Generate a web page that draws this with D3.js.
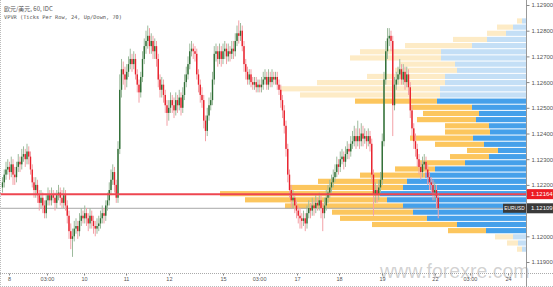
<!DOCTYPE html>
<html><head><meta charset="utf-8">
<script src="https://cdn.jsdelivr.net/npm/d3@7"></script>
<style>html,body{margin:0;padding:0;background:#fff;overflow:hidden}</style>
</head><body>
<svg id="chart" width="553" height="287"></svg>
<script>
const titleLine1 = "欧元/美元, 60, IDC";
const titleLine2 = "VPVR (Ticks Per Row, 24, Up/Down, 70)";
const opens = [
1.1219,1.1221,1.1224,1.1226,1.1227,1.1225,1.1228,1.1224,1.1223,1.1227,
1.1229,1.1228,1.1231,1.1232,1.1230,1.1233,1.1231,1.1226,1.1221,1.1218,
1.1220,1.1216,1.1213,1.1215,1.1212,1.1209,1.1214,1.1216,1.1214,1.1216,
1.1215,1.1213,1.1216,1.1217,1.1215,1.1213,1.1216,1.1212,1.1208,1.1202,
1.1199,1.1200,1.1203,1.1204,1.1202,1.1206,1.1208,1.1207,1.1209,1.1207,
1.1205,1.1208,1.1206,1.1204,1.1203,1.1204,1.1205,1.1207,1.1209,1.1208,
1.1212,1.1214,1.1218,1.1222,1.1225,1.1220,1.1215,1.1234,1.1257,1.1265,
1.1263,1.1261,1.1264,1.1267,1.1269,1.1267,1.1269,1.1263,1.1259,1.1256,
1.1262,1.1269,1.1274,1.1276,1.1278,1.1274,1.1276,1.1272,1.1274,1.1269,
1.1261,1.1257,1.1259,1.1255,1.1251,1.1248,1.1250,1.1253,1.1251,1.1249,
1.1253,1.1251,1.1254,1.1250,1.1255,1.1260,1.1263,1.1267,1.1272,1.1273,
1.1272,1.1271,1.1263,1.1259,1.1255,1.1253,1.1245,1.1241,1.1247,1.1251,
1.1253,1.1261,1.1271,1.1272,1.1269,1.1272,1.1269,1.1272,1.1273,1.1270,
1.1272,1.1271,1.1273,1.1272,1.1276,1.1279,1.1278,1.1280,1.1274,1.1267,
1.1264,1.1261,1.1263,1.1260,1.1259,1.1260,1.1258,1.1259,1.1258,1.1259,
1.1261,1.1262,1.1259,1.1262,1.1260,1.1262,1.1261,1.1262,1.1259,1.1257,
1.1253,1.1249,1.1243,1.1234,1.1224,1.1218,1.1214,1.1215,1.1212,1.1210,
1.1208,1.1207,1.1206,1.1207,1.1205,1.1209,1.1211,1.1210,1.1212,1.1211,
1.1213,1.1212,1.1214,1.1211,1.1209,1.1212,1.1215,1.1217,1.1219,1.1221,
1.1223,1.1225,1.1228,1.1227,1.1230,1.1231,1.1229,1.1232,1.1234,1.1233,
1.1236,1.1237,1.1239,1.1237,1.1239,1.1237,1.1240,1.1238,1.1239,1.1237,
1.1239,1.1236,1.1224,1.1216,1.1218,1.1216,1.1219,1.1222,1.1237,1.1261,
1.1272,1.1277,1.1278,1.1276,1.1251,1.1259,1.1261,1.1263,1.1265,1.1261,
1.1264,1.1260,1.1263,1.1258,1.1249,1.1242,1.1237,1.1234,1.1230,1.1227,
1.1225,1.1228,1.1229,1.1226,1.1223,1.1221,1.1220,1.1217,1.1218,1.1215];
const highs = [
1.1223,1.1226,1.1229,1.1230,1.1229,1.1231,1.1230,1.1227,1.1229,1.1232,
1.1231,1.1234,1.1235,1.1234,1.1236,1.1235,1.1233,1.1228,1.1223,1.1223,
1.1222,1.1218,1.1218,1.1217,1.1214,1.1216,1.1219,1.1218,1.1219,1.1218,
1.1217,1.1218,1.1220,1.1219,1.1218,1.1219,1.1218,1.1214,1.1210,1.1205,
1.1203,1.1206,1.1207,1.1206,1.1209,1.1211,1.1210,1.1212,1.1211,1.1209,
1.1211,1.1210,1.1208,1.1206,1.1207,1.1208,1.1210,1.1212,1.1211,1.1214,
1.1217,1.1221,1.1226,1.1228,1.1227,1.1222,1.1237,1.1263,1.1269,1.1268,
1.1266,1.1267,1.1270,1.1273,1.1271,1.1272,1.1271,1.1265,1.1261,1.1264,
1.1272,1.1277,1.1280,1.1282,1.1281,1.1279,1.1278,1.1277,1.1276,1.1271,
1.1263,1.1262,1.1261,1.1257,1.1253,1.1253,1.1256,1.1255,1.1254,1.1256,
1.1255,1.1257,1.1256,1.1258,1.1263,1.1266,1.1270,1.1275,1.1276,1.1275,
1.1274,1.1273,1.1265,1.1261,1.1258,1.1255,1.1247,1.1250,1.1254,1.1256,
1.1264,1.1274,1.1275,1.1274,1.1275,1.1274,1.1275,1.1276,1.1275,1.1275,
1.1274,1.1276,1.1276,1.1279,1.1282,1.1284,1.1283,1.1282,1.1276,1.1269,
1.1266,1.1265,1.1265,1.1262,1.1262,1.1262,1.1261,1.1261,1.1262,1.1264,
1.1265,1.1264,1.1265,1.1264,1.1265,1.1264,1.1264,1.1264,1.1261,1.1259,
1.1255,1.1251,1.1245,1.1236,1.1226,1.1220,1.1218,1.1217,1.1214,1.1212,
1.1211,1.1209,1.1210,1.1209,1.1212,1.1214,1.1213,1.1215,1.1214,1.1216,
1.1215,1.1217,1.1216,1.1213,1.1215,1.1218,1.1220,1.1222,1.1224,1.1226,
1.1228,1.1231,1.1230,1.1233,1.1234,1.1233,1.1235,1.1237,1.1236,1.1239,
1.1241,1.1243,1.1242,1.1245,1.1242,1.1244,1.1243,1.1242,1.1241,1.1242,
1.1241,1.1238,1.1226,1.1221,1.1220,1.1222,1.1225,1.1240,1.1264,1.1276,
1.1281,1.1281,1.1280,1.1278,1.1262,1.1264,1.1266,1.1269,1.1267,1.1267,
1.1266,1.1266,1.1265,1.1260,1.1251,1.1244,1.1240,1.1236,1.1232,1.1229,
1.1231,1.1232,1.1231,1.1228,1.1225,1.1223,1.1222,1.1221,1.1220,1.1217];
const lows = [
1.1217,1.1219,1.1222,1.1224,1.1222,1.1223,1.1220,1.1220,1.1221,1.1225,
1.1225,1.1226,1.1229,1.1227,1.1228,1.1228,1.1224,1.1219,1.1215,1.1215,
1.1213,1.1210,1.1211,1.1209,1.1207,1.1207,1.1212,1.1212,1.1212,1.1213,
1.1210,1.1211,1.1214,1.1212,1.1211,1.1211,1.1210,1.1205,1.1199,1.1195,
1.1192,1.1198,1.1201,1.1199,1.1200,1.1204,1.1205,1.1205,1.1204,1.1202,
1.1203,1.1203,1.1201,1.1200,1.1201,1.1202,1.1203,1.1205,1.1205,1.1206,
1.1210,1.1212,1.1216,1.1220,1.1217,1.1213,1.1213,1.1232,1.1254,1.1259,
1.1257,1.1258,1.1262,1.1265,1.1264,1.1265,1.1261,1.1256,1.1252,1.1254,
1.1260,1.1267,1.1271,1.1273,1.1271,1.1271,1.1269,1.1269,1.1266,1.1258,
1.1254,1.1254,1.1252,1.1248,1.1243,1.1245,1.1248,1.1248,1.1246,1.1247,
1.1248,1.1249,1.1247,1.1248,1.1253,1.1258,1.1261,1.1265,1.1270,1.1269,
1.1268,1.1261,1.1256,1.1252,1.1250,1.1242,1.1237,1.1239,1.1245,1.1249,
1.1251,1.1259,1.1268,1.1266,1.1267,1.1266,1.1267,1.1269,1.1267,1.1268,
1.1268,1.1269,1.1269,1.1270,1.1274,1.1275,1.1276,1.1272,1.1264,1.1261,
1.1259,1.1259,1.1258,1.1257,1.1257,1.1256,1.1256,1.1256,1.1256,1.1257,
1.1259,1.1257,1.1257,1.1258,1.1258,1.1259,1.1259,1.1257,1.1255,1.1250,
1.1246,1.1240,1.1231,1.1221,1.1215,1.1211,1.1211,1.1209,1.1207,1.1205,
1.1203,1.1203,1.1204,1.1202,1.1203,1.1207,1.1207,1.1208,1.1208,1.1209,
1.1210,1.1210,1.1207,1.1202,1.1207,1.1210,1.1213,1.1215,1.1217,1.1219,
1.1221,1.1223,1.1224,1.1225,1.1228,1.1226,1.1227,1.1230,1.1230,1.1231,
1.1234,1.1235,1.1234,1.1235,1.1234,1.1235,1.1235,1.1236,1.1234,1.1235,
1.1233,1.1221,1.1208,1.1213,1.1213,1.1214,1.1217,1.1220,1.1235,1.1259,
1.1269,1.1274,1.1272,1.1239,1.1249,1.1257,1.1259,1.1261,1.1259,1.1259,
1.1257,1.1258,1.1255,1.1246,1.1239,1.1234,1.1231,1.1227,1.1224,1.1222,
1.1223,1.1226,1.1223,1.1220,1.1218,1.1217,1.1214,1.1214,1.1211,1.1207];
const closes = [
1.1221,1.1224,1.1226,1.1227,1.1225,1.1228,1.1224,1.1223,1.1227,1.1229,
1.1228,1.1231,1.1232,1.1230,1.1233,1.1231,1.1226,1.1221,1.1218,1.1220,
1.1216,1.1213,1.1215,1.1212,1.1209,1.1214,1.1216,1.1214,1.1216,1.1215,
1.1213,1.1216,1.1217,1.1215,1.1213,1.1216,1.1212,1.1208,1.1202,1.1199,
1.1200,1.1203,1.1204,1.1202,1.1206,1.1208,1.1207,1.1209,1.1207,1.1205,
1.1208,1.1206,1.1204,1.1203,1.1204,1.1205,1.1207,1.1209,1.1208,1.1212,
1.1214,1.1218,1.1222,1.1225,1.1220,1.1215,1.1234,1.1257,1.1265,1.1263,
1.1261,1.1264,1.1267,1.1269,1.1267,1.1269,1.1263,1.1259,1.1256,1.1262,
1.1269,1.1274,1.1276,1.1278,1.1274,1.1276,1.1272,1.1274,1.1269,1.1261,
1.1257,1.1259,1.1255,1.1251,1.1248,1.1250,1.1253,1.1251,1.1249,1.1253,
1.1251,1.1254,1.1250,1.1255,1.1260,1.1263,1.1267,1.1272,1.1273,1.1272,
1.1271,1.1263,1.1259,1.1255,1.1253,1.1245,1.1241,1.1247,1.1251,1.1253,
1.1261,1.1271,1.1272,1.1269,1.1272,1.1269,1.1272,1.1273,1.1270,1.1272,
1.1271,1.1273,1.1272,1.1276,1.1279,1.1278,1.1280,1.1274,1.1267,1.1264,
1.1261,1.1263,1.1260,1.1259,1.1260,1.1258,1.1259,1.1258,1.1259,1.1261,
1.1262,1.1259,1.1262,1.1260,1.1262,1.1261,1.1262,1.1259,1.1257,1.1253,
1.1249,1.1243,1.1234,1.1224,1.1218,1.1214,1.1215,1.1212,1.1210,1.1208,
1.1207,1.1206,1.1207,1.1205,1.1209,1.1211,1.1210,1.1212,1.1211,1.1213,
1.1212,1.1214,1.1211,1.1209,1.1212,1.1215,1.1217,1.1219,1.1221,1.1223,
1.1225,1.1228,1.1227,1.1230,1.1231,1.1229,1.1232,1.1234,1.1233,1.1236,
1.1237,1.1239,1.1237,1.1239,1.1237,1.1240,1.1238,1.1239,1.1237,1.1239,
1.1236,1.1224,1.1216,1.1218,1.1216,1.1219,1.1222,1.1237,1.1261,1.1272,
1.1277,1.1278,1.1276,1.1251,1.1259,1.1261,1.1263,1.1265,1.1261,1.1264,
1.1260,1.1263,1.1258,1.1249,1.1242,1.1237,1.1234,1.1230,1.1227,1.1225,
1.1228,1.1229,1.1226,1.1223,1.1221,1.1220,1.1217,1.1218,1.1215,1.12109];

// time axis: labels and their bar-index position (hourly bars)
const timeLabels = ["8","03:00","10","11","12","15","03:00","17","18","19","22","03:00","24"];
const timeIndex = [3.7,25.4,46.6,70.6,95.1,126,146.6,168.3,192.3,216.9,247.1,267.1,288.9];
const priceTicks = [1.119,1.120,1.121,1.122,1.123,1.124,1.125,1.126,1.127,1.128,1.129];

// Volume profile rows (top -> bottom), 24 ticks per row
const rowTopPrice = 1.12848;
const rowStep = 0.00024;
const upVolume = [40,130,200,390,540,850,850,710,690,810,810,860,860,890,540,470,500,370,360,530,420,280,370,610,910,1010,1190,1230,1460,1390,1230,1130,990,690,400,130,80,40];
const downVolume = [50,160,190,340,670,810,910,550,620,780,1280,1600,1400,820,620,560,590,440,450,630,490,310,390,450,400,650,890,1130,1600,1420,1180,810,870,850,380,180,110,50];
const valueAreaRows = [13, 34];

const hLineLevel = 1.12164;
const lastPrice = 1.12109;
const symbolName = "EURUSD";
const watermark = "www.forexre.com";

const W = 553, H = 287, plotRight = 526, plotBottom = 273;
const svg = d3.select("#chart");
const x = d3.scaleLinear().domain([0, closes.length - 1]).range([2.5, 2.5 + 1.75 * (closes.length - 1)]);
const y = d3.scaleLinear().domain([1.119, 1.129]).range([262, 5]);

const maxTotal = d3.max(upVolume.map((u, i) => u + downVolume[i]));
const wv = d3.scaleLinear().domain([0, maxTotal]).range([0, 306]);

// profile
const prof = svg.append("g");
upVolume.forEach((u, i) => {
  const top = rowTopPrice - rowStep * i, bot = top - rowStep;
  const y0 = y(top), y1 = y(bot);
  const inVA = i >= valueAreaRows[0] && i <= valueAreaRows[1];
  const bw = wv(u), ow = wv(downVolume[i]);
  prof.append("rect").attr("x", plotRight - bw).attr("y", y0).attr("width", bw).attr("height", Math.max(0, y1 - y0 - 1))
    .attr("fill", inVA ? "#45a0ea" : "#c4dff6");
  prof.append("rect").attr("x", plotRight - bw - ow).attr("y", y0).attr("width", ow).attr("height", Math.max(0, y1 - y0 - 1))
    .attr("fill", inVA ? "#fcc65e" : "#fdebc6");
});

// last price line
svg.append("line").attr("x1", 0).attr("x2", plotRight).attr("y1", y(lastPrice)).attr("y2", y(lastPrice))
  .attr("stroke", "#a8a8a8").attr("stroke-width", 1);

// candles
const cg = svg.append("g");
closes.forEach((c, i) => {
  const o = opens[i], up = c >= o;
  const cx = x(i);
  cg.append("line").attr("x1", cx).attr("x2", cx).attr("y1", y(highs[i])).attr("y2", y(lows[i]))
    .attr("stroke", up ? "#9dbb9d" : "#f3a0a6").attr("stroke-width", 1);
  const yt = y(Math.max(o, c)), yb = y(Math.min(o, c));
  cg.append("rect").attr("x", cx - 0.7).attr("y", yt).attr("width", 1.4).attr("height", Math.max(0.8, yb - yt))
    .attr("fill", up ? "#2f6e35" : "#e8202c");
});

svg.append("line").attr("x1", 0).attr("x2", plotRight).attr("y1", y(hLineLevel)).attr("y2", y(hLineLevel))
  .attr("stroke", "#ee4650").attr("stroke-width", 2);

// frame
svg.append("line").attr("x1", 0.5).attr("x2", 0.5).attr("y1", 0).attr("y2", H).attr("stroke", "#bbb").attr("stroke-dasharray", "1,1");
svg.append("line").attr("x1", 0).attr("x2", W).attr("y1", plotBottom + 0.5).attr("y2", plotBottom + 0.5).attr("stroke", "#aaa").attr("stroke-dasharray", "1,1");
svg.append("line").attr("x1", 0).attr("x2", W).attr("y1", H - 0.5).attr("y2", H - 0.5).attr("stroke", "#bbb").attr("stroke-dasharray", "1,1");
svg.append("line").attr("x1", plotRight + 0.5).attr("x2", plotRight + 0.5).attr("y1", 0).attr("y2", H).attr("stroke", "#999");

// watermark
svg.append("text").attr("x", 380).attr("y", 278).text(watermark)
  .attr("font-family", "Liberation Sans, Arial, sans-serif").attr("font-size", 19.5)
  .attr("fill", "#9a9a9a").attr("fill-opacity", 0.45);

// y axis
const yAxis = d3.axisRight(y).tickValues(priceTicks).tickFormat(d3.format(".5f")).tickSize(3).tickPadding(2);
const ya = svg.append("g").attr("transform", `translate(${plotRight + 0.5},0)`).call(yAxis);
ya.select(".domain").remove();
ya.selectAll("line").attr("stroke", "#888");
ya.selectAll("text").attr("font-family", "Liberation Sans, Arial, sans-serif").attr("font-size", 6).attr("fill", "#555");

// x axis
const xAxis = d3.axisBottom(x).tickValues(timeIndex).tickFormat((d, i) => timeLabels[i]).tickSize(2).tickPadding(2);
const xa = svg.append("g").attr("transform", `translate(0,${plotBottom + 0.5})`).call(xAxis);
xa.select(".domain").remove();
xa.selectAll("line").attr("stroke", "#888");
xa.selectAll("text").attr("font-family", "Liberation Sans, Arial, sans-serif").attr("font-size", 5.5).attr("fill", "#555");

// price labels
function priceTag(val, fill) {
  const yy = y(val);
  svg.append("rect").attr("x", plotRight + 1).attr("y", yy - 5).attr("width", W - plotRight - 1).attr("height", 10).attr("fill", fill);
  svg.append("text").attr("x", plotRight + 5).attr("y", yy + 2).text(d3.format(".5f")(val))
    .attr("font-family", "Liberation Sans, Arial, sans-serif").attr("font-size", 6).attr("fill", "#fff");
}
priceTag(hLineLevel, "#ec1c24");
priceTag(lastPrice, "#3a3a3a");
svg.append("rect").attr("x", 503).attr("y", y(lastPrice) - 4.5).attr("width", 23).attr("height", 9).attr("fill", "#3a3a3a");
svg.append("text").attr("x", 514.5).attr("y", y(lastPrice) + 2).attr("text-anchor", "middle").text(symbolName)
  .attr("font-family", "Liberation Sans, Arial, sans-serif").attr("font-size", 4.8).attr("fill", "#fff");

// titles
svg.append("text").attr("x", 4).attr("y", 11).text(titleLine1)
  .attr("font-family", "Noto Sans CJK SC, DejaVu Sans Mono, monospace").attr("font-size", 6).attr("fill", "#555");
svg.append("text").attr("x", 4).attr("y", 18.5).text(titleLine2)
  .attr("font-family", "DejaVu Sans Mono, monospace").attr("font-size", 5.3).attr("fill", "#555");
</script>
</body></html>
